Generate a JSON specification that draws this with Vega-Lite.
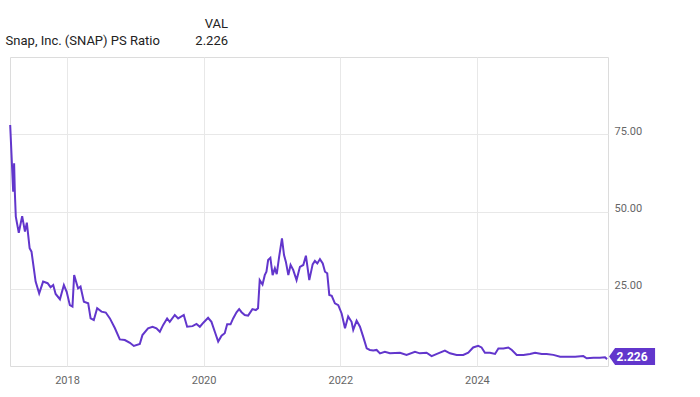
{
  "$schema": "https://vega.github.io/schema/vega-lite/v6.json",
  "width": 598,
  "height": 309,
  "autosize": {"type": "none"},
  "padding": {"left": 10, "top": 57, "right": 92, "bottom": 31},
  "background": "white",
  "config": {
    "font": "Roboto",
    "view": {"stroke": "#dcdcdc", "strokeWidth": 1},
    "axis": {"labelFont": "Roboto", "labelColor": "#666666", "labelFontSize": 11, "gridColor": "#e8e8e8", "gridWidth": 1, "domain": false, "ticks": false, "title": null}
  },
  "title": {
    "text": "VAL",
    "subtitle": "Snap, Inc. (SNAP) PS Ratio\u00a0\u00a0\u00a0\u00a0\u00a0\u00a0\u00a0\u00a0\u00a0\u00a0\u00a02.226",
    "anchor": "start",
    "align": "right",
    "frame": "group",
    "dx": 218,
    "offset": 9,
    "font": "Roboto",
    "fontSize": 13,
    "fontWeight": "normal",
    "color": "#222222",
    "subtitleFont": "Roboto",
    "subtitleFontSize": 13,
    "subtitleColor": "#222222",
    "subtitlePadding": 4
  },
  "data": {"values": [
    {"date": "2017-03-03", "ps": 78.0},
    {"date": "2017-03-19", "ps": 56.4},
    {"date": "2017-03-24", "ps": 65.6},
    {"date": "2017-03-28", "ps": 56.0},
    {"date": "2017-04-02", "ps": 48.3},
    {"date": "2017-04-18", "ps": 43.1},
    {"date": "2017-05-06", "ps": 48.5},
    {"date": "2017-05-21", "ps": 43.5},
    {"date": "2017-05-31", "ps": 46.4},
    {"date": "2017-06-15", "ps": 38.1},
    {"date": "2017-06-25", "ps": 37.0},
    {"date": "2017-07-17", "ps": 27.3},
    {"date": "2017-08-05", "ps": 23.5},
    {"date": "2017-08-26", "ps": 27.3},
    {"date": "2017-09-19", "ps": 26.8},
    {"date": "2017-10-05", "ps": 25.5},
    {"date": "2017-10-19", "ps": 26.2},
    {"date": "2017-11-01", "ps": 23.3},
    {"date": "2017-11-24", "ps": 21.6},
    {"date": "2017-12-15", "ps": 26.2},
    {"date": "2017-12-30", "ps": 24.0},
    {"date": "2018-01-16", "ps": 19.7},
    {"date": "2018-01-30", "ps": 19.2},
    {"date": "2018-02-08", "ps": 29.4},
    {"date": "2018-03-01", "ps": 25.1},
    {"date": "2018-03-14", "ps": 25.7},
    {"date": "2018-04-01", "ps": 20.8},
    {"date": "2018-04-24", "ps": 20.3},
    {"date": "2018-05-07", "ps": 15.4},
    {"date": "2018-05-24", "ps": 14.9},
    {"date": "2018-06-11", "ps": 18.7},
    {"date": "2018-07-04", "ps": 17.6},
    {"date": "2018-07-27", "ps": 17.3},
    {"date": "2018-08-18", "ps": 15.4},
    {"date": "2018-09-14", "ps": 12.2},
    {"date": "2018-10-10", "ps": 8.6},
    {"date": "2018-11-06", "ps": 8.4},
    {"date": "2018-12-03", "ps": 7.5},
    {"date": "2018-12-24", "ps": 6.5},
    {"date": "2019-01-25", "ps": 7.1},
    {"date": "2019-02-08", "ps": 10.0},
    {"date": "2019-03-10", "ps": 12.2},
    {"date": "2019-04-03", "ps": 12.7},
    {"date": "2019-04-24", "ps": 12.2},
    {"date": "2019-05-12", "ps": 11.1},
    {"date": "2019-05-30", "ps": 13.3},
    {"date": "2019-06-20", "ps": 15.4},
    {"date": "2019-07-04", "ps": 14.3},
    {"date": "2019-07-31", "ps": 16.5},
    {"date": "2019-08-18", "ps": 15.4},
    {"date": "2019-09-17", "ps": 16.5},
    {"date": "2019-10-05", "ps": 12.7},
    {"date": "2019-11-03", "ps": 12.9},
    {"date": "2019-11-24", "ps": 13.6},
    {"date": "2019-12-12", "ps": 12.7},
    {"date": "2020-01-01", "ps": 14.1},
    {"date": "2020-01-25", "ps": 15.6},
    {"date": "2020-02-12", "ps": 14.3},
    {"date": "2020-03-01", "ps": 11.1},
    {"date": "2020-03-19", "ps": 7.9},
    {"date": "2020-04-06", "ps": 9.8},
    {"date": "2020-04-23", "ps": 10.6},
    {"date": "2020-05-06", "ps": 13.5},
    {"date": "2020-05-24", "ps": 13.5},
    {"date": "2020-06-07", "ps": 15.4},
    {"date": "2020-06-25", "ps": 17.4},
    {"date": "2020-07-09", "ps": 18.4},
    {"date": "2020-07-22", "ps": 17.4},
    {"date": "2020-08-08", "ps": 16.5},
    {"date": "2020-08-26", "ps": 16.3},
    {"date": "2020-09-18", "ps": 18.4},
    {"date": "2020-10-06", "ps": 18.1},
    {"date": "2020-10-18", "ps": 18.7},
    {"date": "2020-10-27", "ps": 27.8},
    {"date": "2020-11-11", "ps": 26.4},
    {"date": "2020-11-23", "ps": 29.4},
    {"date": "2020-12-02", "ps": 30.5},
    {"date": "2020-12-11", "ps": 34.3},
    {"date": "2020-12-23", "ps": 35.0},
    {"date": "2021-01-04", "ps": 29.4},
    {"date": "2021-01-16", "ps": 31.6},
    {"date": "2021-01-26", "ps": 29.7},
    {"date": "2021-02-08", "ps": 35.4},
    {"date": "2021-02-23", "ps": 41.3},
    {"date": "2021-03-06", "ps": 35.9},
    {"date": "2021-03-16", "ps": 33.7},
    {"date": "2021-03-29", "ps": 29.4},
    {"date": "2021-04-10", "ps": 32.7},
    {"date": "2021-04-24", "ps": 31.1},
    {"date": "2021-05-12", "ps": 27.8},
    {"date": "2021-05-30", "ps": 32.1},
    {"date": "2021-06-17", "ps": 32.7},
    {"date": "2021-07-01", "ps": 35.7},
    {"date": "2021-07-19", "ps": 27.8},
    {"date": "2021-08-06", "ps": 32.9},
    {"date": "2021-08-18", "ps": 34.0},
    {"date": "2021-08-31", "ps": 33.2},
    {"date": "2021-09-14", "ps": 34.6},
    {"date": "2021-09-29", "ps": 33.2},
    {"date": "2021-10-11", "ps": 30.5},
    {"date": "2021-10-23", "ps": 30.0},
    {"date": "2021-11-03", "ps": 23.0},
    {"date": "2021-11-16", "ps": 22.7},
    {"date": "2021-12-03", "ps": 20.3},
    {"date": "2021-12-21", "ps": 19.7},
    {"date": "2022-01-08", "ps": 17.0},
    {"date": "2022-01-26", "ps": 12.2},
    {"date": "2022-02-12", "ps": 16.0},
    {"date": "2022-03-02", "ps": 14.3},
    {"date": "2022-03-11", "ps": 11.7},
    {"date": "2022-03-29", "ps": 14.7},
    {"date": "2022-04-16", "ps": 12.7},
    {"date": "2022-05-03", "ps": 9.5},
    {"date": "2022-05-22", "ps": 5.7},
    {"date": "2022-06-08", "ps": 5.2},
    {"date": "2022-06-26", "ps": 5.0},
    {"date": "2022-07-14", "ps": 5.2},
    {"date": "2022-08-01", "ps": 4.1},
    {"date": "2022-08-27", "ps": 4.6},
    {"date": "2022-09-23", "ps": 4.1},
    {"date": "2022-11-16", "ps": 4.3},
    {"date": "2022-12-21", "ps": 3.6},
    {"date": "2023-02-04", "ps": 4.6},
    {"date": "2023-03-02", "ps": 4.1},
    {"date": "2023-04-07", "ps": 4.3},
    {"date": "2023-05-04", "ps": 3.2},
    {"date": "2023-06-08", "ps": 4.1},
    {"date": "2023-07-14", "ps": 5.0},
    {"date": "2023-08-10", "ps": 4.1},
    {"date": "2023-09-15", "ps": 3.6},
    {"date": "2023-10-20", "ps": 3.6},
    {"date": "2023-11-16", "ps": 4.3},
    {"date": "2023-12-12", "ps": 6.0},
    {"date": "2024-01-08", "ps": 6.5},
    {"date": "2024-01-26", "ps": 6.0},
    {"date": "2024-02-13", "ps": 4.3},
    {"date": "2024-03-11", "ps": 4.3},
    {"date": "2024-04-07", "ps": 3.9},
    {"date": "2024-04-25", "ps": 5.7},
    {"date": "2024-05-22", "ps": 5.7},
    {"date": "2024-06-17", "ps": 6.0},
    {"date": "2024-07-06", "ps": 5.2},
    {"date": "2024-08-01", "ps": 3.6},
    {"date": "2024-09-06", "ps": 3.6},
    {"date": "2024-10-11", "ps": 3.9},
    {"date": "2024-11-07", "ps": 4.3},
    {"date": "2024-12-13", "ps": 3.9},
    {"date": "2025-01-08", "ps": 3.9},
    {"date": "2025-02-13", "ps": 3.6},
    {"date": "2025-03-21", "ps": 3.0},
    {"date": "2025-04-25", "ps": 3.0},
    {"date": "2025-06-09", "ps": 3.0},
    {"date": "2025-07-23", "ps": 3.2},
    {"date": "2025-08-10", "ps": 2.5},
    {"date": "2025-09-15", "ps": 2.7},
    {"date": "2025-10-20", "ps": 2.7},
    {"date": "2025-11-16", "ps": 2.8},
    {"date": "2025-11-27", "ps": 2.226}
  ]},
  "encoding": {
    "x": {
      "field": "date", "type": "temporal",
      "scale": {"domain": [{"year": 2017, "month": 3, "date": 2, "utc": true}, {"year": 2025, "month": 12, "date": 2, "utc": true}]},
      "axis": {
        "values": [{"year": 2018, "month": 1, "date": 1, "utc": true}, {"year": 2020, "month": 1, "date": 1, "utc": true}, {"year": 2022, "month": 1, "date": 1, "utc": true}, {"year": 2024, "month": 1, "date": 1, "utc": true}],
        "format": "%Y", "formatType": "utc", "labelPadding": 8
      }
    },
    "y": {
      "field": "ps", "type": "quantitative",
      "scale": {"domain": [0, 100], "nice": false},
      "axis": {"orient": "right", "values": [25, 50, 75], "format": ".2f", "labelPadding": 6, "labelBaseline": "alphabetic"}
    }
  },
  "layer": [
    {"mark": {"type": "line", "color": "#6236cc", "strokeWidth": 2, "interpolate": "linear"}},
    {
      "transform": [{"filter": "datum.ps == 2.226"}],
      "mark": {"type": "point", "filled": true, "fill": "#6236cc", "opacity": 1, "strokeWidth": 0, "size": 10000, "yOffset": -2.5,
        "shape": "M0.04,0 L0.16,-0.17 L0.96,-0.17 L0.96,0.17 L0.16,0.17 Z"}
    },
    {
      "transform": [{"filter": "datum.ps == 2.226"}],
      "mark": {"type": "text", "color": "white", "font": "Roboto", "fontSize": 12, "fontWeight": "bold", "align": "center", "baseline": "middle", "dx": 25, "dy": -2.5},
      "encoding": {"text": {"field": "ps", "type": "quantitative", "format": ".3f"}}
    }
  ]
}
